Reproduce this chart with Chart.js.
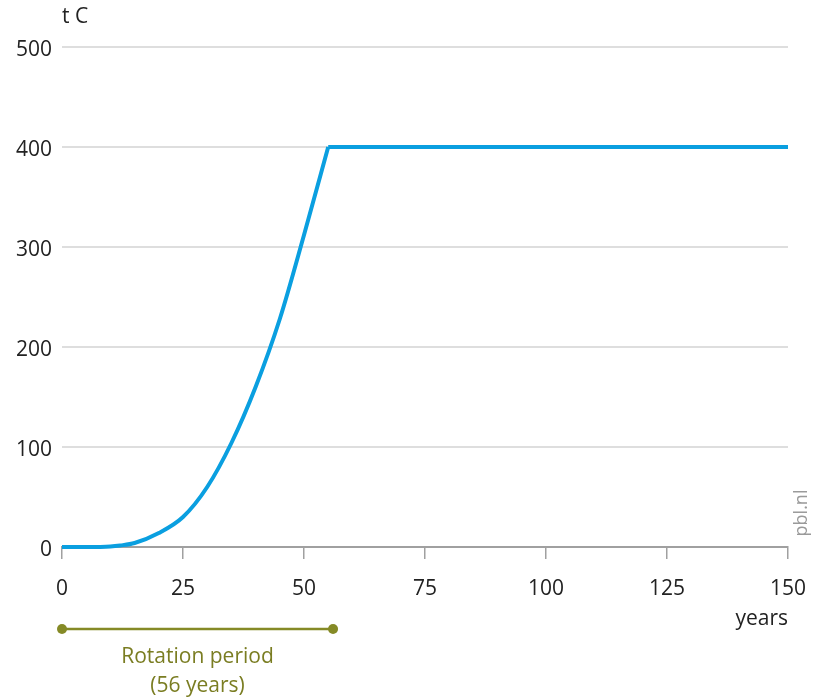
<!DOCTYPE html>
<html>
<head>
<meta charset="utf-8">
<script src="https://cdn.jsdelivr.net/npm/chart.js@4/dist/chart.umd.min.js"></script>
<style>
  html, body { margin: 0; padding: 0; background: #fff; }
  #wrap { width: 814px; height: 700px; }
</style>
</head>
<body>
<div id="wrap"><canvas id="c" width="814" height="700"></canvas></div>
<script>
// carbon stock (t C) over stand age (years): growth phase, then plateau
var growthYears  = [0, 5, 10, 12, 15, 20, 25, 30, 35, 40, 45, 50, 55];
var growthCarbon = [0, 0, 0.5, 1.5, 4, 14, 30, 60, 104, 160, 228, 312, 400];
var plateauYears  = [55, 150];
var plateauCarbon = [400, 400];

var xTicks = [0, 25, 50, 75, 100, 125, 150];
var rotationStart = 0,
    rotationEnd = 56,
    rotationLabel = ["Rotation period", "(56 years)"];

var fontFamily = "'Open Sans', 'Noto Sans', sans-serif";
var lineBlue = "#0a9fe0";
var olive = "#858a26";

function toPoints(xs, ys) {
    return xs.map(function(x, i) { return {x: x, y: ys[i]}; });
}

/* extra texts and the rotation bar, placed through the chart's scales */
var extras = {
    id: "extras",
    afterDraw: function(chart) {
        var ctx = chart.ctx,
            xs = chart.scales.x,
            area = chart.chartArea;
        ctx.save();

        // unit label above the y axis
        ctx.fillStyle = "#222";
        ctx.font = "21px " + fontFamily;
        ctx.textAlign = "left";
        ctx.textBaseline = "middle";
        ctx.fillText("t C", area.left, 17);

        // x axis unit
        ctx.textAlign = "right";
        ctx.fillText("years", area.right, 619);

        // source
        ctx.save();
        ctx.translate(802, 513);
        ctx.rotate(-Math.PI / 2);
        ctx.textAlign = "center";
        ctx.fillStyle = "#9a9a9a";
        ctx.font = "18px " + fontFamily;
        ctx.fillText("pbl.nl", 0, 0);
        ctx.restore();

        // rotation period bar
        var x0 = xs.getPixelForValue(rotationStart),
            x1 = xs.getPixelForValue(rotationEnd),
            yBar = 629;
        ctx.strokeStyle = olive;
        ctx.lineWidth = 2.5;
        ctx.beginPath();
        ctx.moveTo(x0, yBar);
        ctx.lineTo(x1, yBar);
        ctx.stroke();
        ctx.fillStyle = olive;
        [x0, x1].forEach(function(px) {
            ctx.beginPath();
            ctx.arc(px, yBar, 5, 0, Math.PI * 2);
            ctx.fill();
        });

        var xm = xs.getPixelForValue((rotationStart + rotationEnd) / 2);
        ctx.fillStyle = "#7a7d22";
        ctx.textAlign = "center";
        ctx.font = "21px " + fontFamily;
        ctx.fillText(rotationLabel[0], xm, 657);
        ctx.fillText(rotationLabel[1], xm, 686);

        ctx.restore();
    }
};

var lineStyle = {
    borderColor: lineBlue,
    borderWidth: 4,
    pointRadius: 0,
    fill: false,
    clip: false,
    borderCapStyle: "butt",
    borderJoinStyle: "miter"
};

new Chart(document.getElementById("c"), {
    type: "line",
    data: {
        datasets: [
            Object.assign({ data: toPoints(growthYears, growthCarbon), cubicInterpolationMode: "monotone" }, lineStyle),
            Object.assign({ data: toPoints(plateauYears, plateauCarbon), tension: 0 }, lineStyle)
        ]
    },
    options: {
        responsive: false,
        animation: false,
        layout: { padding: { top: 47, right: 26, left: 0, bottom: 0 } },
        plugins: { legend: { display: false }, tooltip: { enabled: false } },
        scales: {
            x: {
                type: "linear",
                min: 0,
                max: 150,
                afterBuildTicks: function(scale) {
                    scale.ticks = xTicks.map(function(v) { return {value: v}; });
                },
                afterFit: function(scale) {
                    scale.height = 153;
                    scale.paddingLeft = 0;
                    scale.paddingRight = 0;
                },
                border: { display: true, color: "#a0a0a0", width: 2 },
                grid: {
                    drawOnChartArea: false,
                    drawTicks: true,
                    tickLength: 12,
                    color: "#a0a0a0",
                    lineWidth: 1.5
                },
                ticks: {
                    padding: 17,
                    color: "#222",
                    font: { family: fontFamily, size: 21 },
                    maxRotation: 0
                }
            },
            y: {
                min: 0,
                max: 500,
                afterFit: function(scale) {
                    scale.width = 62;
                    scale.paddingTop = 0;
                    scale.paddingBottom = 0;
                },
                border: { display: false },
                grid: {
                    color: "#dedede",
                    lineWidth: 2,
                    drawTicks: false
                },
                ticks: {
                    stepSize: 100,
                    padding: 10,
                    labelOffset: 3,
                    color: "#222",
                    font: { family: fontFamily, size: 21 }
                }
            }
        }
    },
    plugins: [extras]
});
</script>
</body>
</html>
